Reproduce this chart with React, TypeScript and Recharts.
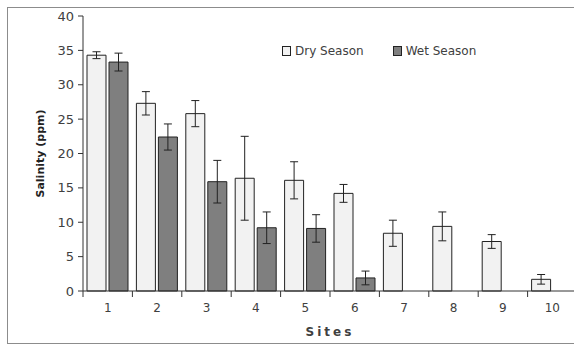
import React from "react"
import { BarChart, Bar, XAxis, YAxis, ErrorBar, Legend } from "recharts"

const sites = ["1", "2", "3", "4", "5", "6", "7", "8", "9", "10"]
const dryMean = [34.3, 27.3, 25.8, 16.4, 16.1, 14.2, 8.4, 9.4, 7.2, 1.7]
const dryErr = [0.5, 1.7, 1.9, 6.1, 2.7, 1.3, 1.9, 2.1, 1.0, 0.7]
const wetMean = [33.3, 22.4, 15.9, 9.2, 9.1, 1.9, null, null, null, null]
const wetErr = [1.3, 1.9, 3.1, 2.3, 2.0, 1.0, null, null, null, null]
const yTicks = [0, 5, 10, 15, 20, 25, 30, 35, 40]

const data = sites.map((site, i) => ({
  site,
  dry: dryMean[i],
  dryErr: dryErr[i],
  wet: wetMean[i],
  wetErr: wetErr[i],
}))

const FONT = "'DejaVu Sans', Verdana, sans-serif"
const AXIS = "#333"
const TEXT = "#404040"
const DRY = "#f2f2f2"
const WET = "#7f7f7f"
const PLOT_W = 494
const BAND = PLOT_W / sites.length

// tick label at band centre, tick mark at band boundary
function SiteTick(props: any) {
  const { x, y, payload } = props
  const bx = x - BAND / 2
  return (
    <g>
      <line x1={bx} y1={y - 6} x2={bx} y2={y} stroke={AXIS} />
      <text x={x} y={y + 15} textAnchor="middle" fill={TEXT} fontSize={12} fontFamily={FONT}>
        {payload.value}
      </text>
    </g>
  )
}

function LegendBox() {
  const items = [
    { name: "Dry Season", color: DRY },
    { name: "Wet Season", color: WET },
  ]
  return (
    <div style={{ display: "flex", fontFamily: FONT, fontSize: 12, color: TEXT }}>
      {items.map((it, i) => (
        <div key={it.name} style={{ display: "flex", alignItems: "center", marginRight: i === 0 ? 29 : 0 }}>
          <span
            style={{
              display: "inline-block",
              width: 7,
              height: 8,
              background: it.color,
              border: "1px solid #222",
              marginRight: 4,
            }}
          />
          <span>{it.name}</span>
        </div>
      ))}
    </div>
  )
}

export default function App() {
  return (
    <div
      style={{
        position: "absolute",
        left: 7,
        top: 7,
        width: 567,
        height: 335,
        overflow: "hidden",
        border: "1px solid #8c8c8c",
        background: "#fff",
      }}
    >
      <BarChart
        width={580}
        height={335}
        data={data}
        margin={{ top: 8, right: 11, left: 0, bottom: 0 }}
        barSize={19}
        barGap={3}
      >
        <XAxis
          dataKey="site"
          height={52}
          stroke={AXIS}
          tickLine={false}
          tickSize={6}
          tickMargin={0}
          tick={<SiteTick />}
          interval={0}
          label={{
            content: ({ viewBox }: any) => (
              <text
                x={viewBox.x + viewBox.width / 2}
                y={viewBox.y + 45}
                textAnchor="middle"
                fontFamily={FONT}
                fontWeight="bold"
                fontSize={12}
                letterSpacing={3}
                fill={TEXT}
              >
                Sites
              </text>
            ),
          }}
        />
        <YAxis
          width={75}
          domain={[0, 40]}
          ticks={yTicks}
          stroke={AXIS}
          tickSize={5}
          tickMargin={4}
          tick={{ fill: TEXT, fontSize: 13, fontFamily: FONT }}
          label={{
            content: ({ viewBox }: any) => {
              const cx = 32
              const cy = viewBox.y + viewBox.height / 2
              return (
                <text
                  x={cx}
                  y={cy}
                  transform={`rotate(-90, ${cx}, ${cy})`}
                  textAnchor="middle"
                  dominantBaseline="central"
                  fontFamily={FONT}
                  fontWeight="bold"
                  fontSize={11}
                  fill="#222"
                >
                  Salinity (ppm)
                </text>
              )
            },
          }}
        />
        <Legend
          layout="horizontal"
          verticalAlign="middle"
          align="center"
          content={<LegendBox />}
          wrapperStyle={{ top: 36, left: 274, width: "auto" }}
        />
        <Bar dataKey="dry" name="Dry Season" fill={DRY} stroke="#222" strokeWidth={1} isAnimationActive={false}>
          <ErrorBar dataKey="dryErr" width={4} stroke="#222" strokeWidth={1} />
        </Bar>
        <Bar dataKey="wet" name="Wet Season" fill={WET} stroke="#222" strokeWidth={1} isAnimationActive={false}>
          <ErrorBar dataKey="wetErr" width={4} stroke="#222" strokeWidth={1} />
        </Bar>
      </BarChart>
    </div>
  )
}
